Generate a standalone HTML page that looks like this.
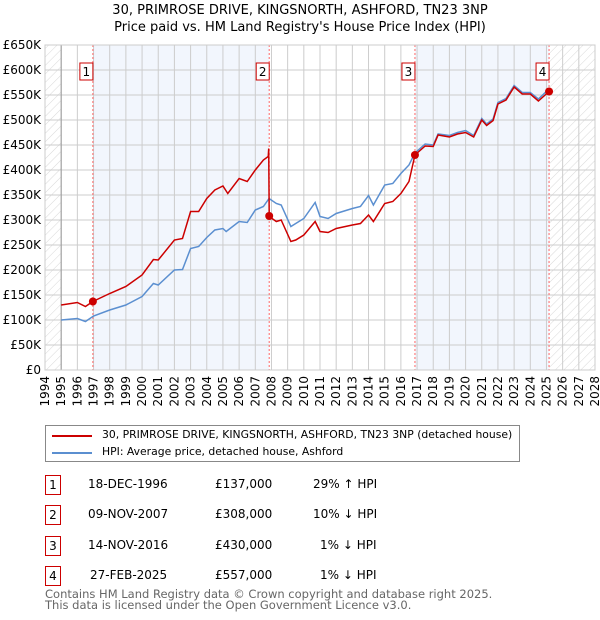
<!DOCTYPE html>
<html><head><meta charset="utf-8"><style>
body{margin:0;background:#fff;font-family:"DejaVu Sans","Liberation Sans",sans-serif;}
#wrap{position:relative;width:600px;height:620px;overflow:hidden}
.t{position:absolute;font-size:12px;color:#000;white-space:nowrap}
.box{position:absolute;width:14px;height:18px;border:1.5px solid #c00;font-size:12px;text-align:center;line-height:18px}
</style></head><body><div id="wrap">
<svg id="chart" width="600" height="420" style="position:absolute;left:0;top:0" font-family="DejaVu Sans, Liberation Sans, sans-serif">
<defs><pattern id="hatch" width="6" height="6" patternUnits="userSpaceOnUse" patternTransform="rotate(45)"><line x1="0" y1="0" x2="0" y2="6" stroke="#d8d8d8" stroke-width="1"/></pattern></defs>
<text x="300" y="14" font-size="13" text-anchor="middle">30, PRIMROSE DRIVE, KINGSNORTH, ASHFORD, TN23 3NP</text>
<text x="300" y="31" font-size="13" text-anchor="middle">Price paid vs. HM Land Registry's House Price Index (HPI)</text>
<g id="g"></g>
</svg>
<div style="position:absolute;left:45px;top:425px;width:473px;height:35px;border:1px solid #888">
<div style="position:absolute;left:6px;top:9px;width:40px;height:2px;background:#c00"></div>
<div class="t" style="left:56px;top:2px;font-size:10.8px">30, PRIMROSE DRIVE, KINGSNORTH, ASHFORD, TN23 3NP (detached house)</div>
<div style="position:absolute;left:6px;top:26px;width:40px;height:2px;background:#5b8fd0"></div>
<div class="t" style="left:56px;top:19px;font-size:10.8px">HPI: Average price, detached house, Ashford</div>
</div>
<div>
<div class="box" style="left:45px;top:475px">1</div>
<div class="t" style="left:88px;top:477px">18-DEC-1996</div>
<div class="t" style="left:215px;top:477px">£137,000</div>
<div class="t" style="left:313px;top:477px">29% ↑ HPI</div>
<div class="box" style="left:45px;top:505px">2</div>
<div class="t" style="left:88px;top:507px">09-NOV-2007</div>
<div class="t" style="left:215px;top:507px">£308,000</div>
<div class="t" style="left:313px;top:507px">10% ↓ HPI</div>
<div class="box" style="left:45px;top:536px">3</div>
<div class="t" style="left:88px;top:538px">14-NOV-2016</div>
<div class="t" style="left:215px;top:538px">£430,000</div>
<div class="t" style="left:320px;top:538px">1% ↓ HPI</div>
<div class="box" style="left:45px;top:566px">4</div>
<div class="t" style="left:90px;top:568px">27-FEB-2025</div>
<div class="t" style="left:215px;top:568px">£557,000</div>
<div class="t" style="left:320px;top:568px">1% ↓ HPI</div>
</div>
<div class="t" style="left:45px;top:589px;color:#666;font-size:11.5px;line-height:11px">Contains HM Land Registry data © Crown copyright and database right 2025.<br>This data is licensed under the Open Government Licence v3.0.</div>
</div>
<script>
const yTicks=[0,50,100,150,200,250,300,350,400,450,500,550,600,650];
const yTickLabels=["£0","£50K","£100K","£150K","£200K","£250K","£300K","£350K","£400K","£450K","£500K","£550K","£600K","£650K"];
const xYears=[1994,1995,1996,1997,1998,1999,2000,2001,2002,2003,2004,2005,2006,2007,2008,2009,2010,2011,2012,2013,2014,2015,2016,2017,2018,2019,2020,2021,2022,2023,2024,2025,2026,2027,2028];
const hpiT=[1995,1996,1996.5,1997,1998,1999,2000,2000.7,2001,2002,2002.5,2003,2003.5,2004,2004.5,2005,2005.2,2006,2006.5,2007,2007.5,2007.85,2008.3,2008.6,2009.2,2009.5,2010,2010.7,2011,2011.5,2012,2013,2013.5,2014,2014.3,2015,2015.5,2016,2016.5,2016.87,2017.5,2018,2018.3,2019,2019.5,2020,2020.5,2021,2021.3,2021.7,2022,2022.5,2023,2023.5,2024,2024.5,2025.15];
const hpiV=[100,103,97,108,120,130,147,173,170,200,201,243,247,265,280,283,277,297,295,320,327,343,333,330,287,293,303,335,307,303,313,323,327,349,330,370,373,393,410,434,452,450,472,469,475,479,469,503,492,502,535,543,569,555,555,542,562];
const propT=[1995,1996,1996.5,1996.96,1998,1999,2000,2000.7,2001,2002,2002.5,2003,2003.5,2004,2004.5,2005,2005.3,2006,2006.5,2007,2007.5,2007.8,2007.83,2007.86,2008.3,2008.6,2009.2,2009.5,2010,2010.7,2011,2011.5,2012,2013,2013.5,2014,2014.3,2015,2015.5,2016,2016.5,2016.87,2017.5,2018,2018.3,2019,2019.5,2020,2020.5,2021,2021.3,2021.7,2022,2022.5,2023,2023.5,2024,2024.5,2025.16];
const propV=[130,135,127,137,153,167,190,221,220,260,263,317,317,343,360,368,353,383,377,400,420,427,443,307,297,300,257,260,270,297,277,275,283,290,293,310,297,333,337,353,377,430,448,447,470,466,472,475,466,500,489,499,532,540,566,552,552,538,557];
const saleT=[1996.96,2007.86,2016.87,2025.16];
const saleV=[137,308,430,557];
const saleLbl=["1","2","3","4"];
const X0=45,X1=595,Y0=370,Y1=45;
const x=t=>X0+(t-1994)/(2028-1994)*(X1-X0);
const y=v=>Y0-v/650*(Y0-Y1);
const NS="http://www.w3.org/2000/svg",g=document.getElementById('g');
function mk(tag,attrs,txt){const e=document.createElementNS(NS,tag);for(const k in attrs)e.setAttribute(k,attrs[k]);if(txt!==undefined)e.textContent=txt;g.appendChild(e);return e;}
let e;
e=mk('rect',{x:x(1996.96),y:Y1,width:x(2007.86)-x(1996.96),height:Y0-Y1,fill:'#f2f6fd'});


e=mk('rect',{x:x(2016.87),y:Y1,width:x(2025.16)-x(2016.87),height:Y0-Y1,fill:'#f2f6fd'});


e=mk('rect',{x:X0,y:Y1,width:x(1995)-X0,height:Y0-Y1,fill:'url(#hatch)'});


e=mk('rect',{x:x(2025.16),y:Y1,width:X1-x(2025.16),height:Y0-Y1,fill:'url(#hatch)'});


yTicks.forEach((v,i)=>{
 e=mk('line',{x1:X0,x2:X1,y1:y(v),y2:y(v),stroke:'#ccc','stroke-width':1});
 
 
 e=mk('text',{x:X0-4,y:y(v)+4,'font-size':12,'text-anchor':'end'},yTickLabels[i]);
 
 
});
xYears.forEach(yr=>{
 e=mk('line',{x1:x(yr),x2:x(yr),y1:Y1,y2:Y0,stroke:'#ccc','stroke-width':1});
 
 
 e=mk('text',{x:0,y:0,'font-size':12,'text-anchor':'end',transform:`translate(${x(yr)+4},${Y0+6}) rotate(-90)`},String(yr));
 
 
});
e=mk('line',{x1:x(1995),x2:x(1995),y1:Y1,y2:Y0,stroke:'#999','stroke-width':1});


saleT.forEach((t,i)=>{
 e=mk('line',{x1:x(t),x2:x(t),y1:Y1,y2:Y0,stroke:'#f66','stroke-width':1,'stroke-dasharray':'2,2'});
 
 
});
e=mk('polyline',{points:hpiT.map((t,i)=>x(t)+','+y(hpiV[i])).join(' '),fill:'none',stroke:'#5b8fd0','stroke-width':1.5});


e=mk('polyline',{points:propT.map((t,i)=>x(t)+','+y(propV[i])).join(' '),fill:'none',stroke:'#c00','stroke-width':1.5});


saleT.forEach((t,i)=>{
 e=mk('circle',{cx:x(t),cy:y(saleV[i]),r:4,fill:'#c00'});
 
 
 e=mk('rect',{x:x(t)-13,y:63,width:13,height:17,fill:'#fff',stroke:'#c00','stroke-width':1});
 
 
 e=mk('text',{x:x(t)-6.5,y:76,'font-size':12,'text-anchor':'middle'},saleLbl[i]);
 
 
});
e=mk('rect',{x:X0,y:Y1,width:X1-X0,height:Y0-Y1,fill:'none',stroke:'#ccc'});


</script>
</body></html>
